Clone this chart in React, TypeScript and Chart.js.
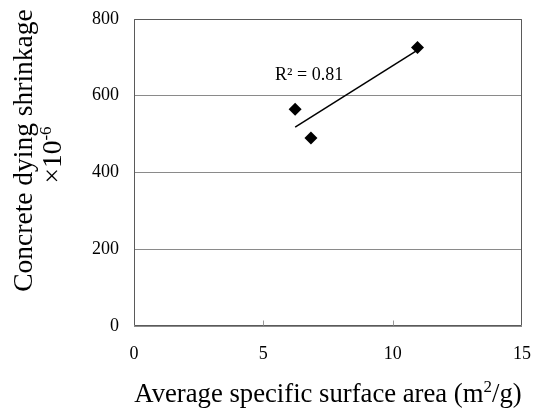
import { useEffect, useRef } from "react";
import { Chart, registerables } from "chart.js";

Chart.register(...registerables);

// ---- data ----
const surfaceArea = [6.23, 6.84, 10.96];
const shrinkage = [565, 490, 726];
const trendX = [6.23, 10.96];
const trendY = [518, 719];
const xTickValues = [0, 5, 10, 15];
const yTickValues = [0, 200, 400, 600, 800];
const r2Text = "R² = 0.81";
const r2At = [6.77, 659];
const xTitleParts: [string, boolean][] = [
  ["Average specific surface area (m", false],
  ["2", true],
  ["/g)", false],
];
const yTitleLine1: [string, boolean][] = [["Concrete dying shrinkage", false]];
const yTitleLine2: [string, boolean][] = [
  ["×10", false],
  ["-6", true],
];

const SERIF = '"Liberation Serif", "Times New Roman", Times, serif';

function drawRich(
  ctx: CanvasRenderingContext2D,
  parts: [string, boolean][],
  size: number,
  cx: number,
  baseline: number
) {
  const supSize = Math.round(size * 0.62);
  const widths = parts.map(([t, sup]) => {
    ctx.font = `${sup ? supSize : size}px ${SERIF}`;
    return ctx.measureText(t).width;
  });
  const total = widths.reduce((a, b) => a + b, 0);
  let x = cx - total / 2;
  ctx.textAlign = "left";
  ctx.textBaseline = "alphabetic";
  parts.forEach(([t, sup], i) => {
    ctx.font = `${sup ? supSize : size}px ${SERIF}`;
    ctx.fillText(t, x, sup ? baseline - size * 0.36 : baseline);
    x += widths[i];
  });
}

const decorPlugin = {
  id: "decor",
  beforeDatasetsDraw(chart: any) {
    const { ctx, chartArea: a, scales } = chart;
    const x = scales.x;
    ctx.save();
    ctx.strokeStyle = "#5a5a5a";
    ctx.lineWidth = 1;
    const l = Math.round(a.left) + 0.5;
    const r = Math.round(a.right) - 0.5;
    const t = Math.round(a.top) + 0.5;
    const b = Math.round(a.bottom) - 0.5;
    ctx.beginPath();
    ctx.moveTo(l, t);
    ctx.lineTo(r, t);
    ctx.lineTo(r, b);
    ctx.lineTo(l, b);
    ctx.closePath();
    ctx.stroke();
    ctx.strokeStyle = "#9a9a9a";
    xTickValues.slice(1, -1).forEach((v) => {
      const px = Math.round(x.getPixelForValue(v)) + 0.5;
      ctx.beginPath();
      ctx.moveTo(px, b);
      ctx.lineTo(px, b - 5);
      ctx.stroke();
    });
    ctx.restore();
  },
  afterDraw(chart: any) {
    const { ctx, chartArea: a, scales } = chart;
    ctx.save();
    ctx.fillStyle = "#000";
    // R² label
    ctx.font = `18px ${SERIF}`;
    ctx.textAlign = "center";
    ctx.textBaseline = "alphabetic";
    ctx.fillText(
      r2Text,
      scales.x.getPixelForValue(r2At[0]),
      scales.y.getPixelForValue(r2At[1]) + 7
    );
    // x title
    drawRich(ctx, xTitleParts, 26.7, (a.left + a.right) / 2, 402);
    // y title (rotated)
    ctx.save();
    ctx.translate(31.5, 150.5);
    ctx.rotate(-Math.PI / 2);
    drawRich(ctx, yTitleLine1, 27.5, 0, 0);
    ctx.restore();
    ctx.save();
    ctx.translate(61, 155);
    ctx.rotate(-Math.PI / 2);
    drawRich(ctx, yTitleLine2, 27.5, 0, 0);
    ctx.restore();
    ctx.restore();
  },
};

function zeroPad(s: any) {
  s.paddingLeft = 0;
  s.paddingRight = 0;
  s.paddingTop = 0;
  s.paddingBottom = 0;
}

export default function App() {
  const ref = useRef<HTMLCanvasElement | null>(null);

  useEffect(() => {
    if (!ref.current) return;
    const chart = new Chart(ref.current, {
      type: "scatter",
      data: {
        datasets: [
          {
            label: "Shrinkage",
            data: surfaceArea.map((v, i) => ({ x: v, y: shrinkage[i] })),
            pointStyle: "rectRot",
            pointRadius: 6.5,
            pointHoverRadius: 6.5,
            backgroundColor: "#000",
            borderColor: "#000",
            borderWidth: 0,
          },
          {
            type: "line",
            label: "Trend",
            data: trendX.map((v, i) => ({ x: v, y: trendY[i] })),
            borderColor: "#000",
            borderWidth: 1.5,
            pointRadius: 0,
            fill: false,
          } as any,
        ],
      },
      options: {
        animation: false,
        responsive: false,
        events: [],
        layout: { padding: { top: 19, right: 11, left: 0, bottom: 0 } },
        plugins: {
          legend: { display: false },
          tooltip: { enabled: false },
          title: { display: false },
        },
        scales: {
          x: {
            type: "linear",
            min: 0,
            max: 15,
            afterBuildTicks: (s: any) => {
              s.ticks = xTickValues.map((v) => ({ value: v }));
            },
            afterFit: (s: any) => {
              s.height = 89;
              zeroPad(s);
            },
            grid: { display: false, drawTicks: false },
            border: { display: false },
            ticks: {
              color: "#000",
              padding: 17,
              font: { family: SERIF, size: 18 },
              maxRotation: 0,
            },
          },
          y: {
            type: "linear",
            min: 0,
            max: 800,
            afterBuildTicks: (s: any) => {
              s.ticks = yTickValues.map((v) => ({ value: v }));
            },
            afterFit: (s: any) => {
              s.width = 134;
              zeroPad(s);
            },
            grid: { color: "#8a8a8a", drawTicks: false, lineWidth: 1 },
            border: { display: false },
            ticks: {
              color: "#000",
              padding: 15,
              font: { family: SERIF, size: 18 },
            },
          },
        },
      },
      plugins: [decorPlugin],
    });
    return () => chart.destroy();
  }, []);

  return (
    <div style={{ position: "absolute", left: 0, top: 0, width: 533, height: 415, background: "#fff" }}>
      <canvas ref={ref} width={533} height={415} style={{ display: "block" }} />
    </div>
  );
}
